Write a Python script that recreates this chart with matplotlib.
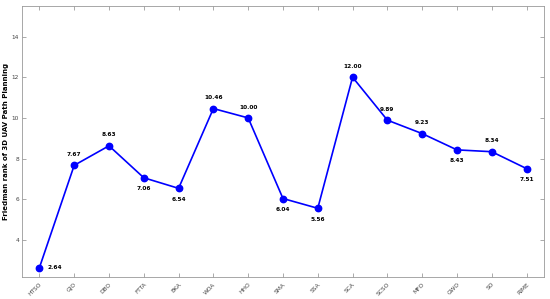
import matplotlib.pyplot as plt
import numpy as np

algorithms = ["HTSO", "GJO", "DBO", "FTTA", "BKA", "WOA", "HHO", "SMA",
              "SSA", "SCA", "SCSO", "MFO", "GWO", "SO", "RIME"]
ranks = [2.64, 7.67, 8.63, 7.06, 6.54, 10.46, 10.00, 6.04,
         5.56, 12.00, 9.89, 9.23, 8.43, 8.34, 7.51]
# where each value label sits relative to its marker
label_pos = ["right", "above", "above", "below", "below", "above", "above", "below",
             "below", "above", "above", "above", "below", "above", "below"]

fig = plt.figure(figsize=(5.5, 2.99), dpi=100)
ax = fig.add_axes([0.04, 0.074, 0.949, 0.906])

x = np.arange(1, len(ranks) + 1)
ax.plot(x, ranks, "-o", color="#0000ff", lw=1.2, ms=4.6)

for xi, v, pos in zip(x, ranks, label_pos):
    if pos == "above":
        ax.annotate(f"{v:.2f}", (xi, v), xytext=(0, 6), textcoords="offset points",
                    ha="center", va="bottom", fontsize=4.2, fontweight="bold")
    elif pos == "below":
        ax.annotate(f"{v:.2f}", (xi, v), xytext=(0, -6), textcoords="offset points",
                    ha="center", va="top", fontsize=4.2, fontweight="bold")
    else:
        ax.annotate(f"{v:.2f}", (xi, v), xytext=(6, 0), textcoords="offset points",
                    ha="left", va="center", fontsize=4.2, fontweight="bold")

ax.set_xlim(0.5, len(ranks) + 0.5)
ax.set_ylim(min(ranks) - 0.45, max(ranks) + 3.5)
ax.set_xticks(x)
ax.set_xticklabels(algorithms, rotation=45, ha="right", rotation_mode="anchor",
                   fontsize=4.2, color="#444444")
ax.set_yticks([4, 6, 8, 10, 12, 14])
ax.tick_params(axis="y", labelsize=4.2, labelcolor="#444444", pad=2)
ax.tick_params(direction="in", top=True, right=True, length=3, width=0.5,
               color="#888888")
for s in ax.spines.values():
    s.set_color("#999999")
    s.set_linewidth(0.6)
ax.set_ylabel("Friedman rank of 3D UAV Path Planning", fontsize=5,
              fontweight="bold", labelpad=2)

fig.savefig("out.png", dpi=100, facecolor="white")
